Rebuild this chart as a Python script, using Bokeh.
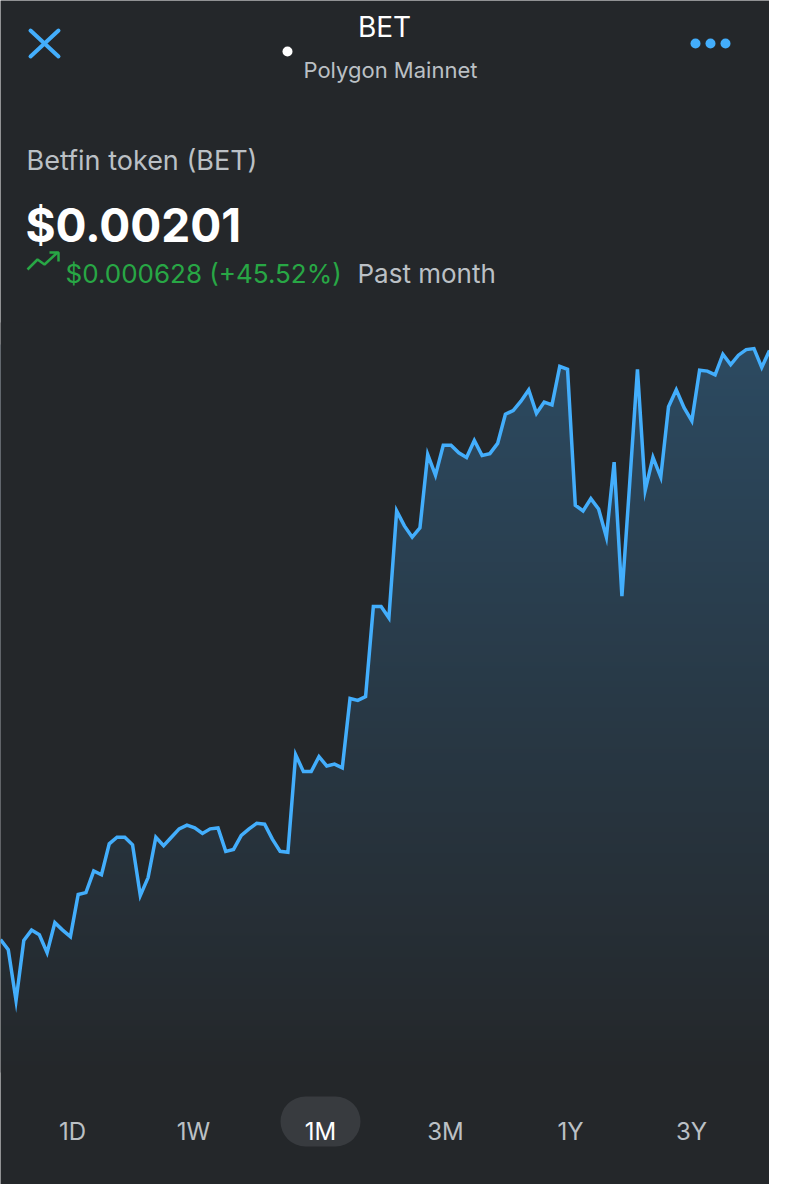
from bokeh.plotting import figure
from bokeh.models import Label, Range1d, BoxAnnotation
from bokeh.embed import file_html
from bokeh.resources import INLINE
import numpy as np

# ---------------- data ----------------
prices = [
    0.001382, 0.001371, 0.001317, 0.001381, 0.001392, 0.001387, 0.001368, 0.001400, 0.001392, 0.001385,
    0.001430, 0.001432, 0.001455, 0.001451, 0.001484, 0.001491, 0.001491, 0.001483, 0.001429, 0.001448,
    0.001491, 0.001482, 0.001491, 0.001500, 0.001504, 0.001501, 0.001495, 0.001500, 0.001501, 0.001476,
    0.001478, 0.001493, 0.001500, 0.001506, 0.001505, 0.001489, 0.001476, 0.001475, 0.001579, 0.001561,
    0.001561, 0.001577, 0.001567, 0.001569, 0.001565, 0.001639, 0.001637, 0.001641, 0.001737, 0.001737,
    0.001725, 0.001839, 0.001823, 0.001811, 0.001821, 0.001899, 0.001877, 0.001909, 0.001909, 0.001901,
    0.001896, 0.001914, 0.001898, 0.001900, 0.001911, 0.001942, 0.001946, 0.001956, 0.001968, 0.001943,
    0.001955, 0.001952, 0.001993, 0.001990, 0.001845, 0.001839, 0.001852, 0.001841, 0.001811, 0.001891,
    0.001748, 0.001868, 0.001990, 0.001861, 0.001896, 0.001875, 0.001950, 0.001968, 0.001949, 0.001935,
    0.001989, 0.001988, 0.001984, 0.002006, 0.001995, 0.002005, 0.002011, 0.002012, 0.001992, 0.002010,
]
steps = list(range(len(prices)))

title_text = "BET"
network_text = "Polygon Mainnet"
token_text = "Betfin token (BET)"
price_text = "$0.00201"
change_text = "$0.000628 (+45.52%)"
period_text = "Past month"
periods = ["1D", "1W", "1M", "3M", "1Y", "3Y"]
selected_period = "1M"

# ---------------- layout ----------------
W, H = 769, 1184
OFF = 8
BG = "#24272a"
BG_RGB = (36, 39, 42)
TOP_RGB = (44, 74, 97)
BLUE = "#43aefc"
GRAY = "#bbc0c5"
GREEN = "#28a745"
FONT = "Inter"

PX = 0.000628 / 589.0           # price units per screen pixel
last = prices[-1]
y_top = last + (358 - OFF) * PX
y_bot = last - (OFF + H - 358) * PX
n = len(prices)


def fx(rx):
    return (rx - OFF) / W * (n - 1)


def fy(ry):
    return y_top - (ry - OFF) / H * (y_top - y_bot)


p = figure(width=W, height=H, output_backend="svg", toolbar_location=None,
           x_range=Range1d(0, n - 1), y_range=Range1d(y_bot, y_top),
           x_axis_location=None, y_axis_location=None, min_border=0)
p.background_fill_color = BG
p.border_fill_color = BG
p.outline_line_color = None
p.grid.visible = False

# vertical gradient for the area under the line (raster, row 0 = bottom)
g0, g1 = 352, 1080
ry = np.arange(g1, g0, -1, dtype=float)
t = ((ry - g0) / (g1 - g0))[:, None]
grad = np.empty((len(ry), 1), dtype=np.uint32)
view = grad.view(dtype=np.uint8).reshape((len(ry), 1, 4))
for k in range(3):
    view[:, :, k] = np.round(TOP_RGB[k] * (1 - t) + BG_RGB[k] * t).astype(np.uint8)
view[:, :, 3] = 255
p.image_rgba(image=[grad], x=0, y=fy(g1), dw=n - 1, dh=fy(g0) - fy(g1))

# mask everything above the price line with the background colour
p.varea(x=steps, y1=prices, y2=fy(330), fill_color=BG)

# price line
p.line(x=steps, y=prices, line_color=BLUE, line_width=3.5, line_join="miter")

# ---------------- header ----------------
p.segment(x0=[fx(38), fx(66)], y0=[fy(38), fy(38)], x1=[fx(66), fx(38)], y1=[fy(64), fy(64)],
          line_color=BLUE, line_width=4, line_cap="round")
p.scatter(x=[fx(703), fx(718), fx(733)], y=[fy(51)] * 3, size=10, fill_color=BLUE, line_color=None)
p.scatter(x=[fx(295)], y=[fy(59)], size=10, fill_color="white", line_color=None)

p.add_layout(Label(x=fx(392), y=fy(34), text=title_text, text_align="center", text_baseline="alphabetic",
                   text_font=FONT, text_font_size="28px", text_color="white"))
p.add_layout(Label(x=fx(311), y=fy(77), text=network_text, text_align="left", text_baseline="alphabetic",
                   text_font=FONT, text_font_size="22px", text_color=GRAY))
p.add_layout(Label(x=fx(34), y=fy(168), text=token_text, text_align="left", text_baseline="alphabetic",
                   text_font=FONT, text_font_size="27px", text_color=GRAY))
p.add_layout(Label(x=fx(33), y=fy(232), text=price_text, text_align="left", text_baseline="alphabetic",
                   text_font=FONT, text_font_size="46px", text_font_style="bold", text_color="white"))

# trend arrow icon
p.line(x=[fx(35), fx(45), fx(52), fx(65)], y=[fy(277), fy(267), fy(272), fy(260)],
       line_color=GREEN, line_width=2.5)
p.line(x=[fx(57), fx(66), fx(66)], y=[fy(260), fy(260), fy(269)], line_color=GREEN, line_width=2.5)

p.add_layout(Label(x=fx(73), y=fy(281), text=change_text, text_align="left", text_baseline="alphabetic",
                   text_font=FONT, text_font_size="26px", text_color=GREEN))
p.add_layout(Label(x=fx(365), y=fy(281), text=period_text, text_align="left", text_baseline="alphabetic",
                   text_font=FONT, text_font_size="26px", text_color=GRAY))

# ---------------- period selector ----------------
p.add_layout(BoxAnnotation(left=fx(288), right=fx(368), top=fy(1104), bottom=fy(1154),
                           fill_color="#383b3f", fill_alpha=1.0, line_color=None, border_radius=25))
centers = [80, 201, 328, 453, 578, 699]
for lab, cx in zip(periods, centers):
    p.add_layout(Label(x=fx(cx), y=fy(1139), text=lab, text_align="center", text_baseline="alphabetic",
                       text_font=FONT, text_font_size="24px",
                       text_color="white" if lab == selected_period else GRAY))

open("out.html", "w").write(file_html(p, INLINE))
